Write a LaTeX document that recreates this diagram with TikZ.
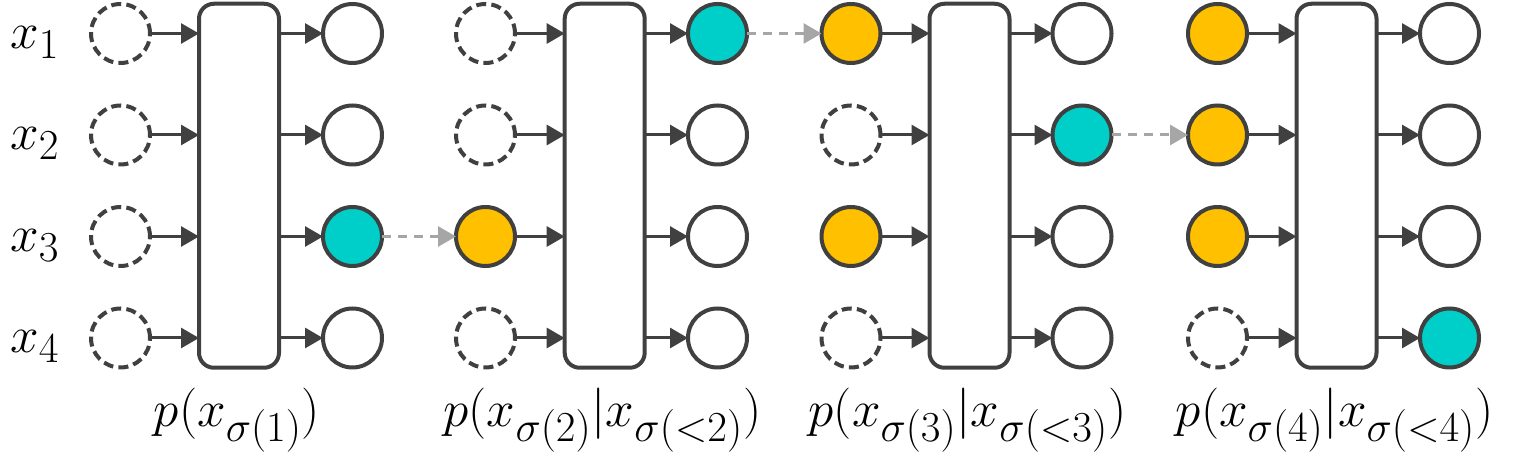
\documentclass[tikz,border=0pt]{standalone}
\usetikzlibrary{arrows.meta}
\definecolor{dk}{HTML}{404040}
\definecolor{tl}{HTML}{00CEC9}
\definecolor{og}{HTML}{FFC000}
\definecolor{gr}{HTML}{A6A6A6}
\tikzset{
 cbase/.style={circle, minimum size=29.5pt, inner sep=0pt, outer sep=0pt, line width=2pt, draw=dk},
 dsh/.style={cbase, dash pattern=on 5pt off 2.6pt, fill=white},
 wht/.style={cbase, fill=white},
 tel/.style={cbase, fill=tl},
 org/.style={cbase, fill=og},
 model/.style={draw=dk, line width=2pt, rounded corners=7.5pt, minimum width=40pt, minimum height=182pt, inner sep=0pt, outer sep=0pt, fill=white},
 conn/.style={draw=dk, line width=1.5pt, -{Triangle[length=9pt,width=10pt]}},
 carry/.style={draw=gr, line width=1.5pt, dash pattern=on 4.5pt off 3.5pt, -{Triangle[length=9pt,width=10pt]}},
 lab/.style={font=\fontsize{24.88}{30}\selectfont, scale=1.03, anchor=base, inner sep=0pt}
}
\begin{document}
\begin{tikzpicture}[x=0.5pt, y=-0.5pt]
\useasboundingbox (0,0) rectangle (1521,469);
% row labels
\node[lab] (l1) at (35,48.5) {$x_1$};
\node[lab] (l2) at (35,150) {$x_2$};
\node[lab] (l3) at (35,251.5) {$x_3$};
\node[lab] (l4) at (35,353) {$x_4$};
% group 1
\node[model] (b1) at (239,185.75) {};
\node[dsh] (i11) at (120.5,33.5) {};
\node[dsh] (i12) at (120.5,135) {};
\node[dsh] (i13) at (120.5,236.5) {};
\node[dsh] (i14) at (120.5,338) {};
\node[wht] (o11) at (352.5,33.5) {};
\node[wht] (o12) at (352.5,135) {};
\node[tel] (o13) at (352.5,236.5) {};
\node[wht] (o14) at (352.5,338) {};
% group 2
\node[model] (b2) at (604.7,185.75) {};
\node[dsh] (i21) at (485.5,33.5) {};
\node[dsh] (i22) at (485.5,135) {};
\node[org] (i23) at (485.5,236.5) {};
\node[dsh] (i24) at (485.5,338) {};
\node[tel] (o21) at (717.5,33.5) {};
\node[wht] (o22) at (717.5,135) {};
\node[wht] (o23) at (717.5,236.5) {};
\node[wht] (o24) at (717.5,338) {};
% group 3
\node[model] (b3) at (969.5,185.75) {};
\node[org] (i31) at (851,33.5) {};
\node[dsh] (i32) at (851,135) {};
\node[org] (i33) at (851,236.5) {};
\node[dsh] (i34) at (851,338) {};
\node[wht] (o31) at (1082,33.5) {};
\node[tel] (o32) at (1082,135) {};
\node[wht] (o33) at (1082,236.5) {};
\node[wht] (o34) at (1082,338) {};
% group 4
\node[model] (b4) at (1336.5,185.75) {};
\node[org] (i41) at (1217.5,33.5) {};
\node[org] (i42) at (1217.5,135) {};
\node[org] (i43) at (1217.5,236.5) {};
\node[dsh] (i44) at (1217.5,338) {};
\node[wht] (o41) at (1449.5,33.5) {};
\node[wht] (o42) at (1449.5,135) {};
\node[wht] (o43) at (1449.5,236.5) {};
\node[tel] (o44) at (1449.5,338) {};
% connectors
\foreach \g in {1,2,3,4}{
  \foreach \r in {1,2,3,4}{
    \draw[conn] (i\g\r.east) -- (b\g.west |- i\g\r);
    \draw[conn] (b\g.east |- o\g\r) -- (o\g\r.west);
  }
}
% carried samples
\draw[carry] (o13.east) -- (i23.west);
\draw[carry] (o21.east) -- (i31.west);
\draw[carry] (o32.east) -- (i42.west);
% bottom labels
\node[lab] (p1) at (237,427) {$p(x_{\sigma(1)})$};
\node[lab] (p2) at (602.5,427) {$p(x_{\sigma(2)}|x_{\sigma(<2)})$};
\node[lab] (p3) at (967.5,427) {$p(x_{\sigma(3)}|x_{\sigma(<3)})$};
\node[lab] (p4) at (1334.7,427) {$p(x_{\sigma(4)}|x_{\sigma(<4)})$};
\end{tikzpicture}
\end{document}
